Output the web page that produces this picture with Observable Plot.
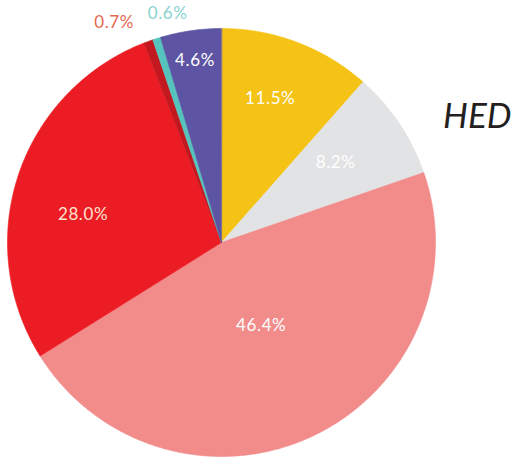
<!DOCTYPE html>
<html><head><meta charset="utf-8">
<script src="https://cdn.jsdelivr.net/npm/d3@7"></script>
<script src="https://cdn.jsdelivr.net/npm/@observablehq/plot@0.6"></script>
<style>body{margin:0;background:#fff;overflow:hidden} .lbl text{letter-spacing:0.6px}</style>
</head><body><div id="chart"></div>
<script>
// ---- data ----
const categories = ["Slice A", "Slice B", "Slice C", "Slice D", "Slice E", "Slice F", "Slice G"];
const values = [11.5, 8.2, 46.4, 28.0, 0.7, 0.6, 4.6];
const labels = ["11.5%", "8.2%", "46.4%", "28.0%", "0.7%", "0.6%", "4.6%"];
const title = "HED";

// ---- styles / layout ----
const sliceColors = ["#f5c316", "#e2e3e4", "#f28c8b", "#ec1c24", "#c2181f", "#56c4bd", "#5d55a4"];
const labelColors = ["#ffffff", "#ffffff", "#ffffff", "#fde3cf", "#e8674f", "#8ad3cf", "#ffffff"];
const labelRadius = [0.71, 0.65, 0.43, 0.66, 1.145, 1.10, 0.86];
const labelNudgeDeg = [-2, -1, 0, -7, -6, 4.4, 0];
const W = 516, H = 457, CX = 221, CY = 242, R = 214;

const arcs = d3.pie().sort(null).value(d => d)(values);
const pts = [];
arcs.forEach((a, i) => {
  pts.push({k: i, x: 0, y: 0});
  const n = Math.max(2, Math.ceil((a.endAngle - a.startAngle) / (Math.PI / 360)));
  for (let j = 0; j <= n; j++) {
    const t = a.startAngle + (a.endAngle - a.startAngle) * j / n;
    pts.push({k: i, x: Math.sin(t), y: -Math.cos(t)});
  }
});
const labelData = arcs.map((a, i) => {
  const t = (a.startAngle + a.endAngle) / 2 + labelNudgeDeg[i] * Math.PI / 180;
  return {k: i, text: labels[i], x: labelRadius[i] * Math.sin(t), y: -labelRadius[i] * Math.cos(t)};
});

const chart = Plot.plot({
  width: W, height: H,
  margin: 0,
  x: {domain: [-CX / R, (W - CX) / R], range: [0, W], axis: null},
  y: {domain: [-CY / R, (H - CY) / R], range: [0, H], axis: null},
  color: {type: "ordinal", domain: d3.range(values.length), range: sliceColors},
  style: {background: "#fff"},
  marks: [
    Plot.line(pts, {x: "x", y: "y", z: "k", fill: "k", stroke: "k", strokeWidth: 0.6, curve: "linear-closed"}),
    Plot.text(labelData, {x: "x", y: "y", text: "text", fill: d => labelColors[d.k], fontSize: 17, fontFamily: "Lato", fontWeight: 400, className: "lbl"}),
    Plot.text([title], {frameAnchor: "top-right", text: d => d, dx: -5, dy: 116, lineAnchor: "middle", fontSize: 35, fontStyle: "italic", fontFamily: "Lato", fontWeight: 400, fill: "#231f20"})
  ]
});
document.getElementById("chart").appendChild(chart);
</script>
</body></html>
